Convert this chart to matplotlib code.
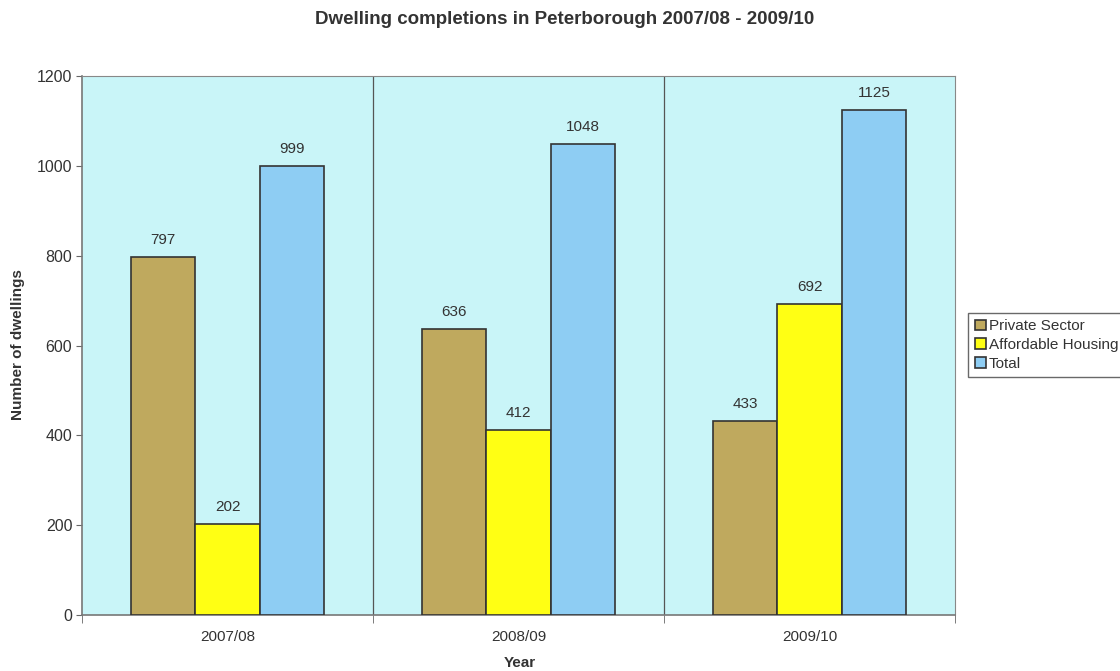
import matplotlib
matplotlib.use("Agg")
import matplotlib.pyplot as plt
import numpy as np

categories = ["2007/08", "2008/09", "2009/10"]
series_names = ["Private Sector", "Affordable Housing", "Total"]
private = [797, 636, 433]
affordable = [202, 412, 692]
total = [999, 1048, 1125]
yticks = [0, 200, 400, 600, 800, 1000, 1200]

colors = ["#BFA95E", "#FFFF14", "#8ECDF3"]
bg = "#C9F5F8"
edge = "#333333"
txt = "#333333"

plt.rcParams['font.family'] = ['Liberation Sans', 'DejaVu Sans']

fig = plt.figure(figsize=(11.2, 6.71), dpi=100)
ax = fig.add_axes([82/1120, 1-615/671, (955-82)/1120, (615-76)/671])
ax.set_facecolor(bg)

x = np.arange(len(categories))
w = 0.222
data = [private, affordable, total]
for i, (vals, c, name) in enumerate(zip(data, colors, series_names)):
    pos = x + (i - 1) * w
    ax.bar(pos, vals, width=w, color=c, edgecolor=edge, linewidth=1.2, label=name, zorder=3)
    for p, v in zip(pos, vals):
        ax.text(p, v + 22, str(v), ha="center", va="bottom", fontsize=11, color=txt, zorder=4)

ax.set_xlim(-0.5, len(categories) - 0.5)
ax.set_ylim(0, 1200)
ax.set_yticks(yticks)
ax.set_yticklabels([str(t) for t in yticks], fontsize=11.5, color=txt)
ax.set_xticks(x)
ax.set_xticklabels(categories, fontsize=11, color=txt)
ax.tick_params(axis="x", length=0, pad=11)
ax.set_xticks(np.arange(-0.5, len(categories)), minor=True)
ax.tick_params(axis="x", which="minor", length=6, color="#666666", direction="out")
ax.tick_params(axis="y", length=4, color="#666666", direction="out", pad=3)
for b in np.arange(0.5, len(categories) - 0.5):
    ax.axvline(b, color="#555555", linewidth=0.9, zorder=1)

for s in ["left", "bottom"]:
    ax.spines[s].set_color("#777777")
    ax.spines[s].set_linewidth(1.2)
ax.spines["top"].set_color("#888888")
ax.spines["top"].set_linewidth(0.8)
ax.spines["right"].set_color("#888888")
ax.spines["right"].set_linewidth(0.8)

fig.text(18/1120, 1-345/671, "Number of dwellings", rotation=90, ha="center", va="center",
         fontsize=11, fontweight="bold", color=txt)
fig.text(520/1120, 1-663/671, "Year", ha="center", va="center",
         fontsize=11, fontweight="bold", color=txt)
fig.text(565/1120, 1-19/671, "Dwelling completions in Peterborough 2007/08 - 2009/10",
         ha="center", va="center", fontsize=13.5, fontweight="bold", color=txt)

leg = ax.legend(loc="center left", bbox_to_anchor=(968/1120, 1-345/671), bbox_transform=fig.transFigure,
                frameon=True, fancybox=False, fontsize=11, handlelength=0.7, handleheight=0.7,
                handletextpad=0.2, borderpad=0.45, labelspacing=0.3, borderaxespad=0)
leg.get_frame().set_edgecolor("#444444")
leg.get_frame().set_linewidth(1.0)
for t in leg.get_texts():
    t.set_color(txt)

fig.savefig("out.png", dpi=100)
